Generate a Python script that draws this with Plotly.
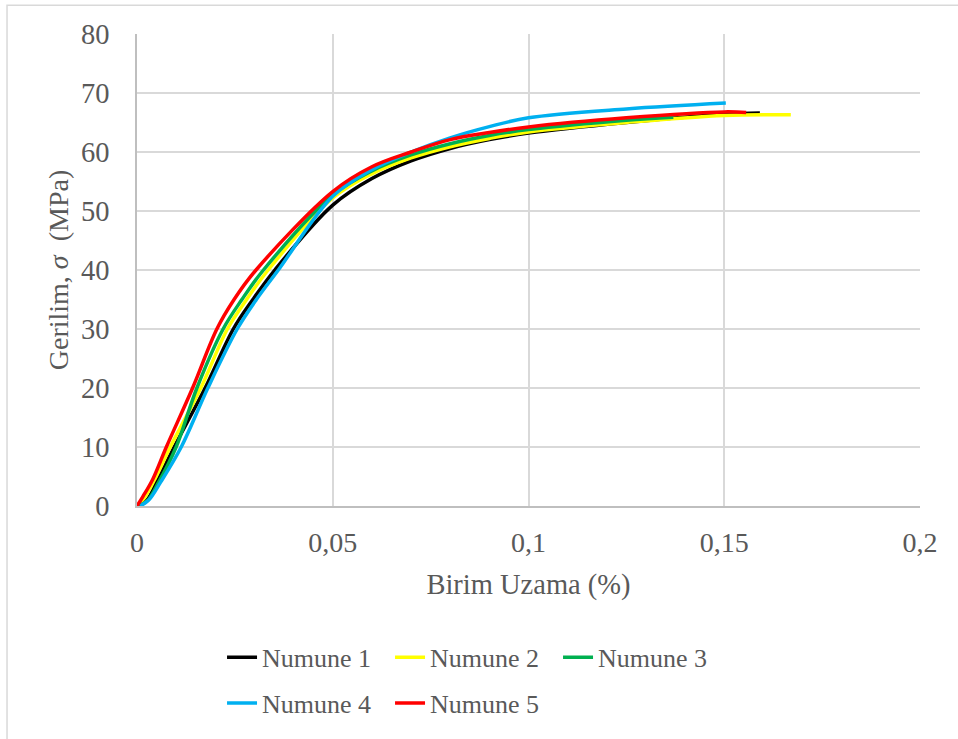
import plotly.graph_objects as go

# ---- data (strain, stress) ----
names = ["Numune 1", "Numune 2", "Numune 3", "Numune 4", "Numune 5"]
colors = ["#000000", "#FFFF00", "#00B050", "#00B0F0", "#FF0000"]

strain_1 = [0, 0.0025, 0.005, 0.0095, 0.0174, 0.0246, 0.0296, 0.0352, 0.05, 0.06, 0.07, 0.08, 0.09, 0.1, 0.125, 0.15, 0.1591]
stress_1 = [0, 1.0, 4.0, 10, 20, 30, 35, 40, 51.0, 55.5, 58.5, 60.6, 62.1, 63.2, 65.0, 66.4, 66.6]

strain_2 = [0, 0.002, 0.0045, 0.0085, 0.0163, 0.0231, 0.0280, 0.0335, 0.05, 0.06, 0.07, 0.08, 0.09, 0.1, 0.125, 0.15, 0.167]
stress_2 = [0, 1.5, 4.5, 10, 20, 30, 35, 40, 52.2, 56.3, 59.0, 60.9, 62.3, 63.4, 65.0, 66.2, 66.3]

strain_3 = [0, 0.0025, 0.0055, 0.0100, 0.0153, 0.0220, 0.0268, 0.0323, 0.05, 0.06, 0.07, 0.08, 0.09, 0.1, 0.125, 0.137]
stress_3 = [0, 0.8, 4.0, 10, 20, 30, 35, 40, 52.7, 56.8, 59.5, 61.4, 62.8, 63.8, 65.4, 65.9]

strain_4 = [0.0008, 0.003, 0.006, 0.0113, 0.0181, 0.0256, 0.0305, 0.0361, 0.05, 0.06, 0.07, 0.08, 0.09, 0.1, 0.125, 0.1504]
stress_4 = [0, 1.0, 4.0, 10, 20, 30, 35, 40, 52.5, 57.0, 60.0, 62.4, 64.3, 65.8, 67.3, 68.3]

strain_5 = [0, 0.0015, 0.004, 0.0075, 0.0142, 0.0204, 0.0248, 0.0304, 0.05, 0.06, 0.07, 0.08, 0.09, 0.1, 0.125, 0.15, 0.1556]
stress_5 = [0, 1.6, 4.5, 10, 20, 30, 35, 40, 53.3, 57.5, 60.0, 62.1, 63.3, 64.25, 65.8, 66.8, 66.7]

strains = [strain_1, strain_2, strain_3, strain_4, strain_5]
stresses = [stress_1, stress_2, stress_3, stress_4, stress_5]

x_title = "Birim Uzama (%)"
y_title = "Gerilim, <i>σ</i> \u00a0(MPa)"

SERIF = "Liberation Serif"
GREY = "#595959"

fig = go.Figure()
for i in range(5):
    fig.add_trace(go.Scatter(
        x=strains[i], y=stresses[i], name=names[i], mode="lines",
        line=dict(color=colors[i], width=3.5, shape="spline", smoothing=1.0),
        legend="legend" if i < 3 else "legend2",
    ))

fig.update_layout(
    width=958, height=739,
    margin=dict(l=137, r=38, t=34, b=231),
    paper_bgcolor="white", plot_bgcolor="white",
    separators=", ",
    font=dict(family=SERIF, color=GREY),
    showlegend=True,
    legend=dict(orientation="h", x=0.1086, y=-0.3207, xanchor="left", yanchor="middle",
                font=dict(family=SERIF, size=26, color=GREY), entrywidth=123,
                itemwidth=30, bgcolor="rgba(0,0,0,0)"),
    legend2=dict(orientation="h", x=0.1086, y=-0.4177, xanchor="left", yanchor="middle",
                 font=dict(family=SERIF, size=26, color=GREY), entrywidth=123,
                 itemwidth=30, bgcolor="rgba(0,0,0,0)"),
    shapes=[dict(type="rect", xref="paper", yref="paper", x0=-0.166, x1=1.15, y0=-0.6, y1=1.061,
                 line=dict(color="#d9d9d9", width=1.5), layer="below")],
)

fig.update_xaxes(
    range=[0, 0.2], dtick=0.05, tick0=0,
    showgrid=True, gridcolor="#d9d9d9", gridwidth=1.5,
    showline=True, linecolor="#bfbfbf", linewidth=1.5,
    zeroline=False, ticks="", ticklabelstandoff=11,
    tickfont=dict(family=SERIF, size=28, color=GREY),
    title=dict(text=x_title, font=dict(family=SERIF, size=28.5, color=GREY), standoff=17),
)
fig.update_yaxes(
    range=[0, 80], dtick=10, tick0=0,
    showgrid=True, gridcolor="#d9d9d9", gridwidth=1.5,
    showline=True, linecolor="#bfbfbf", linewidth=1.5,
    zeroline=False, ticks="", ticklabelstandoff=20,
    tickfont=dict(family=SERIF, size=28.5, color=GREY),
    title=dict(text=y_title, font=dict(family=SERIF, size=28, color=GREY), standoff=4),
)

fig.write_html("out.html")
